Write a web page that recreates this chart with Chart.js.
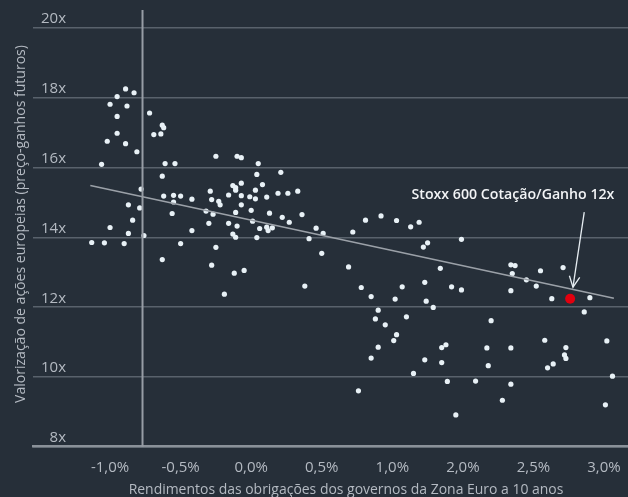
<!DOCTYPE html>
<html>
<head>
<meta charset="utf-8">
<script src="https://cdn.jsdelivr.net/npm/chart.js@4/dist/chart.umd.min.js"></script>
<style>
  html, body { margin: 0; padding: 0; background: #262f39; }
  #wrap { width: 628px; height: 497px; position: relative; }
</style>
</head>
<body>
<div id="wrap"><canvas id="c"></canvas></div>
<script>
// ---- Data ----
// x positions on the axis (tick values below carry the printed labels)
const xTickValues = [-1, -0.5, 0, 0.5, 1, 1.5, 2, 2.5];
const xTickLabels = ['-1,0%', '-0,5%', '0,0%', '0,5%', '1,0%', '2,0%', '2,5%', '3,0%'];
const yTickValues = [8, 10, 12, 14, 16, 18, 20];
const yTickLabels = ['8x', '10x', '12x', '14x', '16x', '18x', '20x'];

const bondYield = [
  -0.89,-0.83,-0.95,-1.00,-0.88,-0.72,-0.95,-0.63,-0.62,-0.95,
  -0.64,-0.69,-1.02,-0.89,-0.81,-1.06,-0.61,-0.54,-0.63,-0.25,
  -0.10,-0.07, 0.05, 0.04, 0.08,-0.13,-0.11,-0.11,-0.07, 0.03,
  -0.29,-0.78,-0.16,-0.07,-0.01, 0.03,-0.62,-0.55,-0.50,-0.42,
  -0.28,-0.55,-0.23,-0.22,-0.07,-0.87,-0.79,-0.32,-0.27, 0.00,
  -0.11,-0.56,-0.84,-0.30,-0.16,-0.10, 0.01, 0.06,-1.00,-0.42,
  -0.87,-0.76,-0.13,-0.11, 0.04,-1.13,-1.04,-0.90,-0.50,-0.25,
  -0.63,-0.28,-0.12,-0.05,-0.19, 0.11, 0.19, 0.26, 0.33, 0.21,
   0.13, 0.22, 0.27, 0.36, 0.11, 0.12, 0.15, 0.46, 0.41, 0.51,
   0.50, 0.72, 0.81, 0.92, 1.03, 1.13, 1.19, 1.22, 1.25, 1.49,
   0.69, 0.38, 0.78, 0.85, 1.07, 1.02, 1.23, 1.24, 1.29, 1.34,
   1.42, 1.49, 0.90, 0.88, 0.95, 1.10, 1.03, 1.01, 0.90, 0.85,
   0.76, 1.15, 1.23, 1.35, 1.38, 1.35, 1.39, 1.45, 1.59, 1.67,
   1.68, 1.70, 1.78, 1.84, 1.84, 1.84, 1.85, 1.84, 1.87, 1.95,
   2.02, 2.05, 2.21, 2.13, 2.40, 2.36, 2.08, 2.23, 2.22, 2.23,
   2.10, 2.14, 2.52, 2.56, 2.51
];
const forwardPE = [
  18.25,18.14,18.03,17.81,17.76,17.56,17.46,17.21,17.14,16.98,
  16.96,16.94,16.75,16.68,16.45,16.09,16.11,16.11,15.75,16.32,
  16.32,16.28,16.11,15.80,15.51,15.48,15.42,15.35,15.55,15.35,
  15.32,15.38,15.21,15.19,15.16,15.10,15.18,15.20,15.18,15.09,
  15.08,15.01,15.03,14.93,14.93,14.93,14.84,14.75,14.66,14.77,
  14.71,14.68,14.49,14.40,14.40,14.32,14.46,14.25,14.28,14.19,
  14.11,14.05,14.09,14.00,13.99,13.85,13.84,13.82,13.82,13.71,
  13.36,13.20,12.97,13.05,12.37,15.15,15.26,15.26,15.32,15.86,
  14.69,14.57,14.43,14.65,14.29,14.19,14.27,14.26,13.96,14.11,
  13.54,14.15,14.49,14.61,14.48,14.30,14.43,13.72,13.84,13.94,
  13.15,12.60,12.56,12.30,12.58,12.23,12.71,12.17,11.99,13.11,
  12.58,12.49,11.91,11.66,11.49,11.72,11.21,11.04,10.85,10.54,
   9.60,10.10,10.49,10.84,10.92,10.41, 9.87, 8.91, 9.88,10.83,
  10.32,11.61, 9.33,10.83, 9.79,12.47,12.96,13.21,13.19,12.78,
  12.60,13.04,13.13,12.24,12.27,11.86,11.05,10.84,10.63,10.53,
  10.26,10.37,11.03,10.02, 9.20
];
// current Stoxx 600 point (red)
const currentX = [2.26];
const currentY = [12.24];
// regression line end points
const trendX = [-1.14, 2.57];
const trendY = [15.48, 12.25];
// vertical reference line
const refLineX = [-0.77, -0.77];
const refLineY = [8, 20.51];
// annotation
const annotationText = 'Stoxx 600 Cotação/Ganho 12x';
const annotationTextPos = [1.855, 15.10];
const arrowFrom = [2.36, 14.72];
const arrowTo = [2.28, 12.57];

const xAxisTitle = 'Rendimentos das obrigações dos governos da Zona Euro a 10 anos';
const yAxisTitle = 'Valorização de ações europeias (preço-ganhos futuros)';

const toPts = (xs, ys) => xs.map((v, i) => ({ x: v, y: ys[i] }));

const FONT = '"Open Sans", "Noto Sans", sans-serif';
const TEXT_COL = '#b4bac2';

// choose a font size so the text spans the width seen in the reference
function fitFont(ctx, text, weight, targetWidth) {
  ctx.font = weight + ' 14px ' + FONT;
  const w = ctx.measureText(text).width;
  const size = Math.min(16, Math.max(11, 14 * targetWidth / w));
  ctx.font = weight + ' ' + size.toFixed(2) + 'px ' + FONT;
}

const textPlugin = {
  id: 'texts',
  beforeDraw(chart) {
    const { ctx } = chart;
    ctx.save();
    ctx.fillStyle = '#262f39';
    ctx.fillRect(0, 0, chart.width, chart.height);
    ctx.restore();
  },
  afterDatasetsDraw(chart) {
    const { ctx, scales: { x, y } } = chart;
    ctx.save();
    // arrow
    const x1 = x.getPixelForValue(arrowFrom[0]), y1 = y.getPixelForValue(arrowFrom[1]);
    const x2 = x.getPixelForValue(arrowTo[0]), y2 = y.getPixelForValue(arrowTo[1]);
    ctx.strokeStyle = '#e6edf2';
    ctx.lineWidth = 1.3;
    ctx.beginPath(); ctx.moveTo(x1, y1); ctx.lineTo(x2, y2); ctx.stroke();
    const ang = Math.atan2(y2 - y1, x2 - x1);
    const L = 12, A = 0.45;
    ctx.beginPath();
    ctx.moveTo(x2 - L * Math.cos(ang - A), y2 - L * Math.sin(ang - A));
    ctx.lineTo(x2, y2);
    ctx.lineTo(x2 - L * Math.cos(ang + A), y2 - L * Math.sin(ang + A));
    ctx.stroke();
    // annotation text
    ctx.fillStyle = '#f2f4f6';
    fitFont(ctx, annotationText, '600', 203);
    ctx.textAlign = 'center';
    ctx.textBaseline = 'alphabetic';
    ctx.fillText(annotationText, x.getPixelForValue(annotationTextPos[0]), y.getPixelForValue(annotationTextPos[1]));
    ctx.restore();
  },
  afterDraw(chart) {
    const { ctx, scales: { x, y }, chartArea } = chart;
    ctx.save();
    ctx.fillStyle = TEXT_COL;
    ctx.font = '15px ' + FONT;
    ctx.textBaseline = 'alphabetic';
    ctx.textAlign = 'right';
    yTickValues.forEach((v, i) => {
      ctx.fillText(yTickLabels[i], chartArea.left + 33, y.getPixelForValue(v) - 4.5);
    });
    ctx.textAlign = 'center';
    xTickValues.forEach((v, i) => {
      ctx.fillText(xTickLabels[i], x.getPixelForValue(v), chartArea.bottom + 25);
    });
    fitFont(ctx, xAxisTitle, '400', 435);
    ctx.fillText(xAxisTitle, 346, 494);
    fitFont(ctx, yAxisTitle, '400', 358);
    ctx.translate(21, 224);
    ctx.rotate(-Math.PI / 2);
    ctx.textBaseline = 'middle';
    ctx.fillText(yAxisTitle, 0, 0);
    ctx.restore();
  }
};

new Chart(document.getElementById('c'), {
  type: 'scatter',
  data: {
    datasets: [
      {
        type: 'line', data: toPts(refLineX, refLineY),
        borderColor: '#979da5', borderWidth: 2, pointRadius: 0, fill: false
      },
      {
        type: 'line', data: toPts(trendX, trendY),
        borderColor: '#9ba1a8', borderWidth: 1.6, pointRadius: 0, fill: false
      },
      {
        data: toPts(bondYield, forwardPE),
        backgroundColor: '#e8f1f6', borderWidth: 0, pointRadius: 2.6
      },
      {
        data: toPts(currentX, currentY),
        backgroundColor: '#e3000f', borderWidth: 0, pointRadius: 5
      }
    ]
  },
  options: {
    responsive: true,
    maintainAspectRatio: false,
    animation: false,
    devicePixelRatio: 1,
    layout: { autoPadding: false, padding: { left: 33, right: 0, top: 10, bottom: 50.3 } },
    plugins: { legend: { display: false }, tooltip: { enabled: false } },
    scales: {
      x: {
        type: 'linear', min: -1.546, max: 2.67,
        afterFit: (s) => { s.height = 0; },
        grid: { display: false, drawTicks: false },
        border: { display: true, color: '#8a9199', width: 2.5 },
        ticks: { display: false }
      },
      y: {
        type: 'linear', min: 8, max: 20.51,
        afterFit: (s) => { s.width = 0; },
        afterBuildTicks: (s) => { s.ticks = yTickValues.map(v => ({ value: v })); },
        grid: { color: '#59626c', lineWidth: 1.5, drawTicks: false },
        border: { display: false },
        ticks: { display: false }
      }
    }
  },
  plugins: [textPlugin]
});
</script>
</body>
</html>
